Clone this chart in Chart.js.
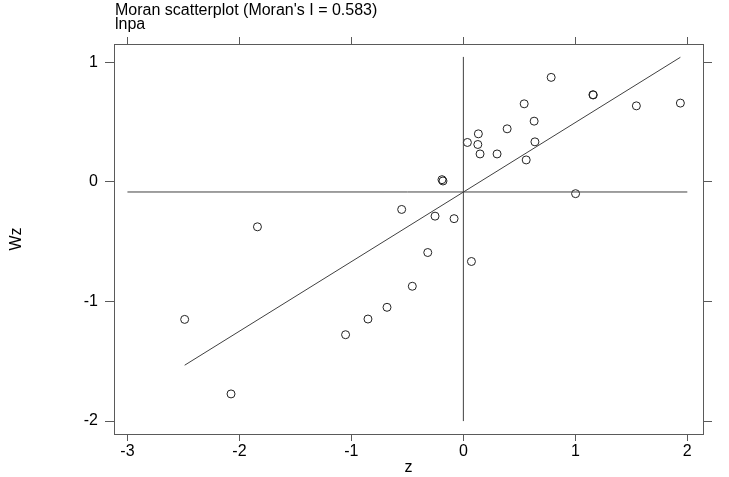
<!DOCTYPE html>
<html>
<head>
<meta charset="utf-8">
<script src="https://cdn.jsdelivr.net/npm/chart.js@4.4.0/dist/chart.umd.min.js"></script>
<style>
  html, body { margin: 0; padding: 0; background: #fff; }
  #wrap { position: relative; width: 729px; height: 477px; }
</style>
</head>
<body>
<div id="wrap"><canvas id="moranChart"></canvas></div>
<script>
// --- DATOS ---
const zVals = [-2.489, -2.075, -1.839, -1.052, -0.852, -0.682, -0.456, -0.551, -0.318, -0.253,
               -0.083, 0.072, -0.191, -0.182, 0.036, 0.134, 0.129, 0.149, 0.301, 0.391,
               0.543, 0.561, 0.632, 0.639, 0.784, 1.157, 1.160, 1.002, 1.545, 1.938];
const wzVals = [-1.150, -1.773, -0.376, -1.278, -1.147, -1.049, -0.873, -0.231, -0.591, -0.287,
                -0.308, -0.666, 0.018, 0.007, 0.329, 0.401, 0.312, 0.233, 0.233, 0.443,
                0.652, 0.183, 0.507, 0.334, 0.873, 0.728, 0.726, -0.099, 0.635, 0.658];

// recta de regresión (pendiente = I de Moran) y líneas de las medias
const fitZ = [-2.489, 1.938];
const fitWz = [-1.533, 1.041];
const meanWz = -0.085;
const hLineZ = [-3, 2];
const vLineWz = [-2, 1.044];

const xTicks = [-3, -2, -1, 0, 1, 2];
const yTicks = [-2, -1, 0, 1];

const titleLines = ["Moran scatterplot (Moran's I = 0.583)", "lnpa"];

// --- ESTILOS ---
const frameColor = '#5a5a5a';
const lineColor = '#404040';
const fontFamily = '"Liberation Sans", Arial, sans-serif';

// título arriba a la izquierda, alineado con el área del gráfico
const titlePlugin = {
    id: 'topTitle',
    afterDraw(chart) {
        const ctx = chart.ctx;
        ctx.save();
        ctx.fillStyle = '#000';
        ctx.font = '16px ' + fontFamily;
        ctx.textBaseline = 'top';
        ctx.textAlign = 'left';
        ctx.fillText(titleLines[0], chart.chartArea.left + 1, 3);
        ctx.fillText(titleLines[1], chart.chartArea.left + 1, 17);
        ctx.restore();
    }
};

const fixTicks = (vals) => (scale) => { scale.ticks = vals.map(v => ({ value: v })); };

const axisBase = (vals, len) => ({
    type: 'linear',
    afterBuildTicks: fixTicks(vals),
    grid: { drawOnChartArea: false, drawTicks: true, tickLength: len, color: frameColor, lineWidth: 1 },
    border: { display: true, color: frameColor, width: 1 }
});

const lineSet = (xs, ys) => ({
    type: 'line',
    data: xs.map((x, i) => ({ x: x, y: ys[i] })),
    showLine: true,
    borderColor: lineColor,
    borderWidth: 1,
    pointRadius: 0,
    fill: false
});

const ctx = document.getElementById('moranChart').getContext('2d');
const myChart = new Chart(ctx, {
    type: 'scatter',
    data: {
        datasets: [
            lineSet(fitZ, fitWz),
            lineSet(hLineZ, [meanWz, meanWz]),
            lineSet([0, 0], vLineWz),
            {
                data: zVals.map((z, i) => ({ x: z, y: wzVals[i] })),
                pointStyle: 'circle',
                pointRadius: 4,
                pointBorderWidth: 1,
                borderColor: '#222',
                backgroundColor: 'rgba(0,0,0,0)'
            }
        ]
    },
    options: {
        responsive: true,
        maintainAspectRatio: false,
        animation: false,
        layout: { padding: { top: 37, right: 17, left: 0, bottom: 0 } },
        plugins: { legend: { display: false }, tooltip: { enabled: false } },
        scales: {
            x: Object.assign(axisBase(xTicks, 7), {
                position: 'bottom',
                min: -3.12, max: 2.14,
                afterFit: (s) => { s.height = 43; },
                ticks: { color: '#000', font: { size: 16, family: fontFamily }, padding: 1, maxRotation: 0 },
                title: { display: true, text: 'z', color: '#000', font: { size: 16, family: fontFamily }, padding: { top: 0, bottom: 0 } }
            }),
            x2: Object.assign(axisBase(xTicks, 7), {
                position: 'top',
                min: -3.12, max: 2.14,
                ticks: { display: false }
            }),
            y: Object.assign(axisBase(yTicks, 9), {
                position: 'left',
                min: -2.108, max: 1.152,
                afterFit: (s) => { s.width = 114; },
                ticks: { color: '#000', font: { size: 16, family: fontFamily }, padding: 7 },
                title: { display: true, text: 'Wz', color: '#000', font: { size: 16, family: fontFamily }, padding: { top: 7, bottom: 0 } }
            }),
            y2: Object.assign(axisBase(yTicks, 9), {
                position: 'right',
                min: -2.108, max: 1.152,
                ticks: { display: false }
            })
        }
    },
    plugins: [titlePlugin]
});
</script>
</body>
</html>
